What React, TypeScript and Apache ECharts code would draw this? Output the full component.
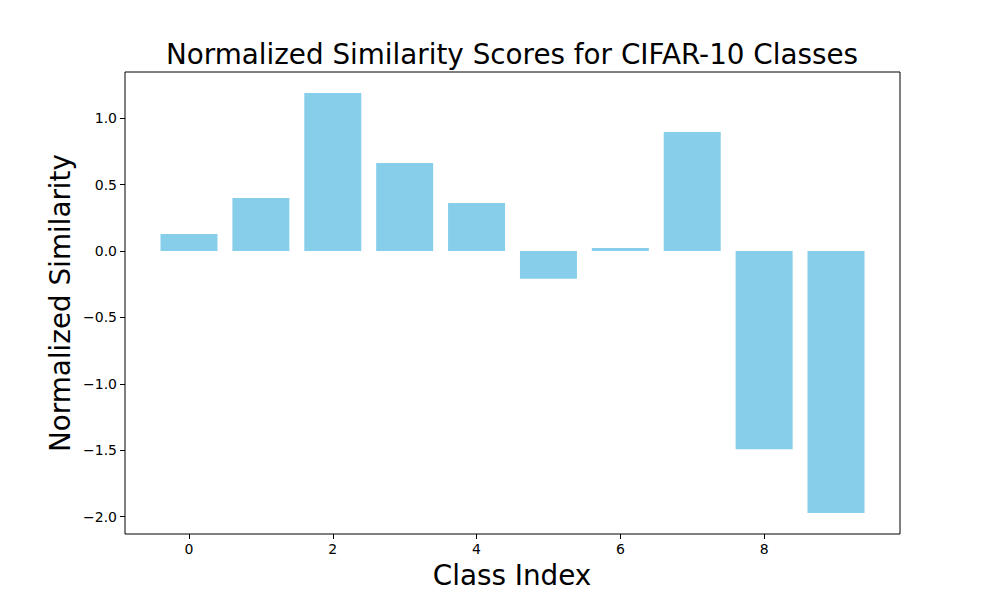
import React, { useEffect, useRef } from "react";
import * as echarts from "echarts";

const classIndex = [0, 1, 2, 3, 4, 5, 6, 7, 8, 9];
const similarity = [0.128, 0.4, 1.19, 0.663, 0.362, -0.209, 0.023, 0.897, -1.492, -1.972];
const xTicks = [0, 2, 4, 6, 8];
const yTicks = [-2.0, -1.5, -1.0, -0.5, 0.0, 0.5, 1.0];

const FONT = "DejaVu Sans";

export default function App() {
  const ref = useRef<HTMLDivElement>(null);
  useEffect(() => {
    if (!ref.current) return;
    const chart = echarts.init(ref.current, null, { renderer: "svg" });
    const fmt = (v: number) => v.toFixed(1).replace("-", "\u2212");
    chart.setOption({
      animation: false,
      backgroundColor: "#ffffff",
      textStyle: { fontFamily: FONT },
      grid: {
        left: 125,
        right: 100,
        top: 72,
        bottom: 66,
        show: true,
        borderColor: "#000000",
        borderWidth: 1,
        backgroundColor: "transparent",
      },
      xAxis: {
        type: "value",
        min: -0.89,
        max: 9.89,
        axisLine: { show: false, onZero: false },
        splitLine: { show: false },
        axisTick: {
          show: true,
          inside: false,
          length: 5,
          lineStyle: { color: "#000" },
          customValues: xTicks,
        },
        axisLabel: {
          color: "#000",
          fontSize: 14,
          fontFamily: FONT,
          margin: 8,
          customValues: xTicks,
          formatter: (v: number) => String(v),
        },
      },
      yAxis: {
        type: "value",
        min: -2.13,
        max: 1.348,
        axisLine: { show: false, onZero: false },
        splitLine: { show: false },
        axisTick: {
          show: true,
          inside: false,
          length: 5,
          lineStyle: { color: "#000" },
          customValues: yTicks,
        },
        axisLabel: {
          color: "#000",
          fontSize: 14,
          fontFamily: FONT,
          margin: 8,
          customValues: yTicks,
          formatter: (v: number) => fmt(v),
        },
      },
      graphic: [
        {
          type: "text",
          x: 512,
          y: 54,
          style: {
            text: "Normalized Similarity Scores for CIFAR-10 Classes",
            fontSize: 27.8,
            fontFamily: FONT,
            fill: "#000",
            textAlign: "center",
            textVerticalAlign: "middle",
          },
        },
        {
          type: "text",
          x: 512,
          y: 575,
          style: {
            text: "Class Index",
            fontSize: 27.8,
            fontFamily: FONT,
            fill: "#000",
            textAlign: "center",
            textVerticalAlign: "middle",
          },
        },
        {
          type: "text",
          x: 60,
          y: 303,
          rotation: Math.PI / 2,
          style: {
            text: "Normalized Similarity",
            fontSize: 27.8,
            fontFamily: FONT,
            fill: "#000",
            textAlign: "center",
            textVerticalAlign: "middle",
          },
        },
      ],
      series: [
        {
          type: "bar",
          data: classIndex.map((c, i) => [c, similarity[i]]),
          barWidth: 57,
          itemStyle: { color: "#87CEEB" },
        },
      ],
    });
    return () => chart.dispose();
  }, []);
  return <div ref={ref} style={{ width: 1000, height: 600, margin: -8 }} />;
}
